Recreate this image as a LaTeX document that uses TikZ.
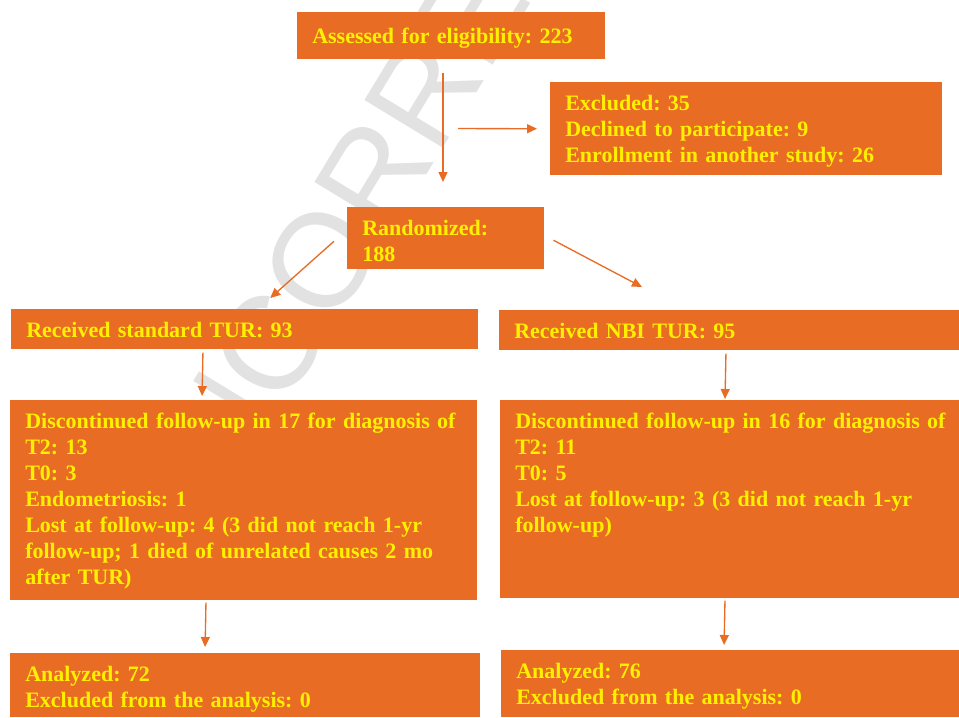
\documentclass[tikz,border=0pt]{standalone}
\usepackage{fontspec}
\setmainfont{Liberation Serif}
\newfontfamily\wmfont{Liberation Sans}
\usepackage{tikz}
\usetikzlibrary{arrows.meta}
\definecolor{boxorange}{RGB}{232,108,35}
\definecolor{txtyellow}{RGB}{255,240,0}
\definecolor{wmgray}{RGB}{226,226,226}
\frenchspacing

\begin{document}
\begin{tikzpicture}[x=0.75pt,y=0.75pt,yscale=-1,xscale=1,
  box/.style={fill=boxorange,draw=none,anchor=north west,align=left,inner xsep=11.25pt,inner ysep=0pt,
    text=txtyellow,font=\bfseries\fontsize{16.5}{19.5}\selectfont,text height=21pt},
  arr/.style={draw=boxorange,line width=1pt,-{Triangle[length=7.5pt,width=6.75pt]}},
  wmark/.style={text=wmgray,font=\wmfont\fontsize{100}{100}\selectfont,rotate=58.7,inner sep=0pt}]
\useasboundingbox (0,0) rectangle (959,717);

%Watermark
\node[wmark] (wm) at (414,108) {UNCORRECTED};

%Shape: Rectangle
\node[box,text width=208.5pt,text height=23.25pt,text depth=12pt] (assess) at (297,12) {Assessed for eligibility: 223};
%Shape: Rectangle
\node[box,text width=271.5pt,text depth=48.75pt] (excl) at (550,82) {Excluded: 35\\Declined to participate: 9\\Enrollment in another study: 26};
%Shape: Rectangle
\node[box,text width=125.25pt,text depth=25.5pt] (rand) at (347,207) {Randomized:\\188};
%Shape: Rectangle
\node[box,text width=327.75pt,text depth=9pt] (stdtur) at (11,309) {Received standard TUR: 93};
%Shape: Rectangle
\node[box,text width=322.5pt,text depth=9pt] (nbitur) at (499,310) {Received NBI TUR: 95};
%Shape: Rectangle
\node[box,text width=327.75pt,text depth=129pt] (discl) at (10,400) {\mbox{Discontinued follow-up in 17 for diagnosis of}\\T2: 13\\T0: 3\\Endometriosis: 1\\Lost at follow-up: 4 (3 did not reach 1-yr\\follow-up; 1 died of unrelated causes 2 mo\\after TUR)};
%Shape: Rectangle
\node[box,text width=321.75pt,text depth=127.5pt] (discr) at (500,400) {\mbox{Discontinued follow-up in 16 for diagnosis of}\\T2: 11\\T0: 5\\Lost at follow-up: 3 (3 did not reach 1-yr\\follow-up)};
%Shape: Rectangle
\node[box,text width=330pt,text depth=27pt] (anal) at (10,653) {Analyzed: 72\\Excluded from the analysis: 0};
%Shape: Rectangle
\node[box,text width=321pt,text depth=29.25pt] (anar) at (501,650) {Analyzed: 76\\Excluded from the analysis: 0};

\coordinate (split) at (443,128.5);

%Straight Lines
\draw[arr,shorten <=9.75pt,shorten >=18.75pt] (assess.south -| 443,0) -- (rand.north -| 443,0);
%Straight Lines
\draw[arr,shorten <=11.25pt,shorten >=9.75pt] (split) -- (excl.west);
%Straight Lines
\draw[arr] ([xshift=-9.75pt,yshift=2.25pt]rand.west) -- ([xshift=19.1pt,yshift=-8.25pt]stdtur.north);
%Straight Lines
\draw[arr] ([xshift=6.75pt,yshift=1.5pt]rand.east) -- ([xshift=107.25pt,yshift=-17.25pt]nbitur.north west);
%Straight Lines
\draw[arr,shorten <=2.25pt,shorten >=3pt] (stdtur.south -| 203,0) -- (discl.north -| 202,0);
%Straight Lines
\draw[arr,shorten <=2.25pt,shorten >=0.75pt] (nbitur.south -| 726,0) -- (discr.north -| 725,0);
%Straight Lines
\draw[arr,shorten <=1.5pt,shorten >=4.5pt] (discl.south -| 206,0) -- (anal.north -| 205,0);
%Straight Lines
\draw[arr,shorten <=1.5pt,shorten >=3.75pt] (discr.south -| 725,0) -- (anar.north -| 724,0);

\end{tikzpicture}
\end{document}
